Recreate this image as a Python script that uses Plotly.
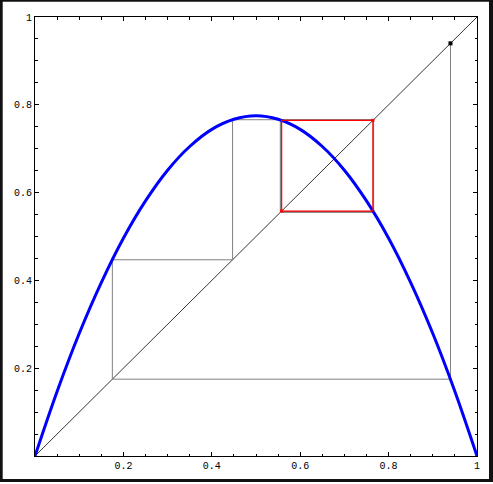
import plotly.graph_objects as go

# Parabola (x grid and heights)
curve_x = [0.0, 0.05, 0.1, 0.15, 0.2, 0.25, 0.3, 0.35, 0.4, 0.45, 0.5,
           0.55, 0.6, 0.65, 0.7, 0.75, 0.8, 0.85, 0.9, 0.95, 1.0]
curve_y = [0.0, 0.147, 0.279, 0.395, 0.496, 0.581, 0.651, 0.705, 0.744, 0.767, 0.775,
           0.767, 0.744, 0.705, 0.651, 0.581, 0.496, 0.395, 0.279, 0.147, 0.0]

# Cobweb iterates (transient, gray)
iterates = [0.94, 0.175, 0.447, 0.766, 0.555, 0.766, 0.556, 0.765, 0.557]
# Final 2-cycle (red)
cycle = [0.558, 0.7646, 0.558]

tick_vals = [0.2, 0.4, 0.6, 0.8, 1.0]
tick_text = ["0.2", "0.4", "0.6", "0.8", "1"]


def cobweb(vals):
    xs, ys = [vals[0]], [vals[0]]
    for a, b in zip(vals[:-1], vals[1:]):
        xs += [a, b]
        ys += [b, b]
    return xs, ys


gx, gy = cobweb(iterates)
rx, ry = cobweb(cycle)

fig = go.Figure()
fig.add_trace(go.Scatter(x=[0, 1], y=[0, 1], mode="lines",
                         line=dict(color="black", width=0.8), hoverinfo="skip"))
fig.add_trace(go.Scatter(x=gx, y=gy, mode="lines",
                         line=dict(color="#808080", width=1), hoverinfo="skip"))
fig.add_trace(go.Scatter(x=curve_x, y=curve_y, mode="lines", line_shape="spline",
                         line=dict(color="#0000ff", width=3), hoverinfo="skip"))
fig.add_trace(go.Scatter(x=rx, y=ry, mode="lines",
                         line=dict(color="#ff0000", width=1.2), hoverinfo="skip"))
fig.add_trace(go.Scatter(x=[cycle[0], cycle[1]], y=[cycle[0], cycle[1]], mode="markers",
                         marker=dict(color="#ff0000", size=3, symbol="square"), hoverinfo="skip"))
fig.add_trace(go.Scatter(x=[iterates[0]], y=[iterates[0]], mode="markers",
                         marker=dict(color="black", size=4, symbol="square"), hoverinfo="skip"))

axis_common = dict(
    range=[0, 1], showgrid=False, zeroline=False,
    showline=True, linecolor="black", linewidth=1, mirror="allticks",
    ticks="inside", ticklen=4, tickcolor="black", tickwidth=1,
    tickvals=tick_vals, ticktext=tick_text,
    tickfont=dict(family="Liberation Mono, Courier New, monospace", size=10, color="black"),
    minor=dict(ticks="inside", ticklen=2.5, dtick=0.05, tick0=0, tickcolor="black", showgrid=False),
    fixedrange=True,
)

fig.update_xaxes(**axis_common)
fig.update_yaxes(**axis_common)

# outer frame (dark border around the picture)
W, H = 493, 484
L, R, T, B = 35, 16, 17, 26
pw, ph = W - L - R, H - T - B


def px(v):
    return (v - L) / pw


def py(v):
    return (H - B - v) / ph


frame = [
    (0, 0, 2.7, H),
    (W - 4, 0, W, H),
    (0, 0, W, 1.8),
    (0, H - 3, W, H),
]
shapes = []
for x0, y0, x1, y1 in frame:
    shapes.append(dict(type="rect", xref="paper", yref="paper",
                       x0=px(x0), x1=px(x1), y0=py(y1), y1=py(y0),
                       fillcolor="#111111", line=dict(width=0), layer="above"))

fig.update_layout(
    width=W, height=H,
    margin=dict(l=L, r=R, t=T, b=B),
    paper_bgcolor="white", plot_bgcolor="white",
    showlegend=False, shapes=shapes,
)

fig.write_html("out.html", config={"displayModeBar": False},
               post_script="document.body.style.margin='0';document.body.style.overflow='hidden';")
